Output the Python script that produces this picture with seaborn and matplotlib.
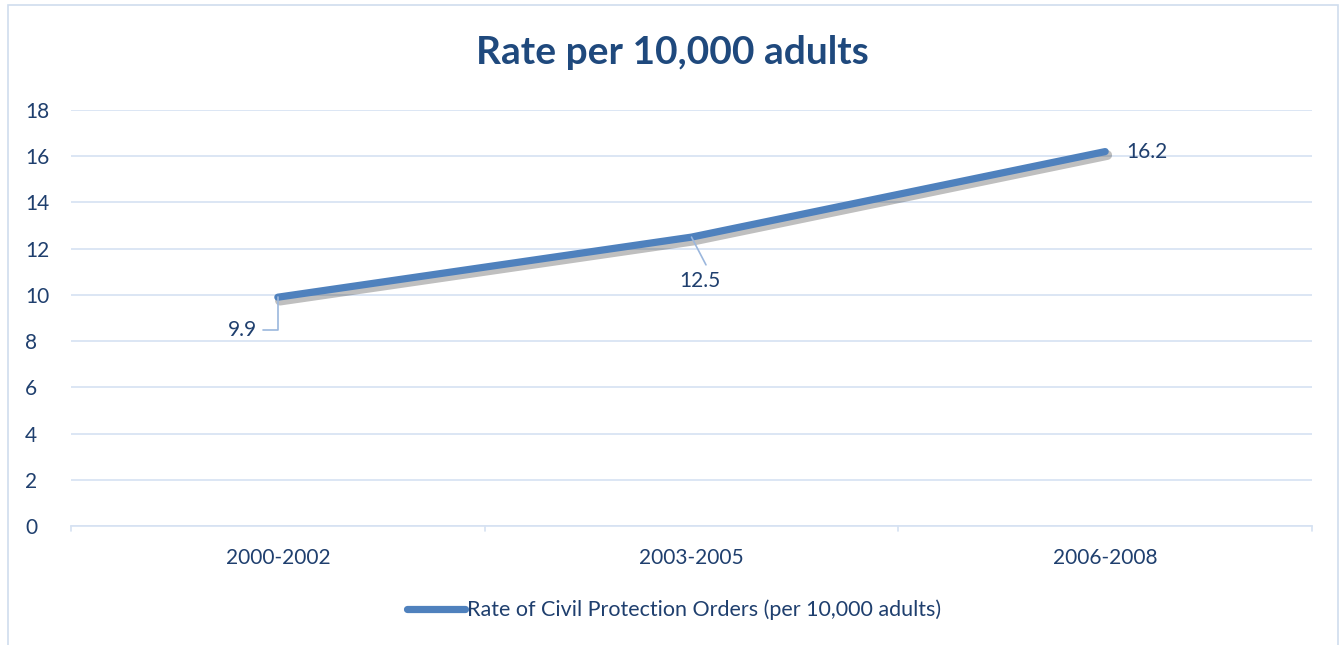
import matplotlib
matplotlib.use("Agg")
import matplotlib.pyplot as plt
import matplotlib.patheffects as pe
from matplotlib.patches import Rectangle
from matplotlib.lines import Line2D
import pandas as pd
import seaborn as sns

# Chart data
periods = ["2000-2002", "2003-2005", "2006-2008"]
rates = [9.9, 12.5, 16.2]
y_ticks = [0, 2, 4, 6, 8, 10, 12, 14, 16, 18]
series_name = "Rate of Civil Protection Orders (per 10,000 adults)"
title = "Rate per 10,000 adults"

df = pd.DataFrame({"period": periods, "rate": rates})
df["pos"] = range(len(periods))

sns.set_style("white")
plt.rcParams["font.family"] = ["Lato", "DejaVu Sans"]

text_color = "#1F3F6E"
line_color = "#4F81BD"
grid_color = "#D6E2F2"
fs = 15

fig = plt.figure(figsize=(13.44, 6.45), dpi=100)
ax = fig.add_axes([71 / 1344, 1 - 526 / 645, (1312 - 71) / 1344, (526 - 110) / 645])

# outer chart border
fig.patches.append(Rectangle((8 / 1344, -0.05), (1338 - 8) / 1344, 1 - 5 / 645 + 0.05,
                             transform=fig.transFigure, fill=False,
                             edgecolor="#D0DDEE", linewidth=1.2))

sns.lineplot(data=df, x="pos", y="rate", ax=ax, color=line_color, linewidth=5.2,
             legend=False,
             path_effects=[pe.SimpleLineShadow(offset=(1.5, -2.5), alpha=0.25, shadow_color="black",
                                               linewidth=7),
                           pe.Normal()],
             solid_capstyle="round")

ax.set_xlim(-0.5, len(periods) - 0.5)
ax.set_ylim(0, 18)
ax.set_yticks(y_ticks)
ax.set_xticks(range(len(periods)))
ax.set_xticklabels(periods)
ax.set_xlabel("")
ax.set_ylabel("")
ax.tick_params(axis="both", colors=text_color, labelsize=fs, length=0)
ax.tick_params(axis="x", pad=16)
ax.tick_params(axis="y", pad=33)
for lab in ax.get_yticklabels():
    lab.set_horizontalalignment("left")
ax.grid(axis="y", color=grid_color, linewidth=1.2)
ax.set_axisbelow(True)
for side in ["top", "right", "left"]:
    ax.spines[side].set_visible(False)
ax.spines["bottom"].set_color(grid_color)
ax.spines["bottom"].set_linewidth(1.2)

# category boundary tick marks
for b in [i - 0.5 for i in range(len(periods) + 1)]:
    ax.plot([b, b], [0, -0.22], color=grid_color, linewidth=1.2, clip_on=False)

# data labels with leader lines
ax.plot([0, 0, -0.035], [rates[0], rates[0] - 1.4, rates[0] - 1.4], color="#9BB7DD", linewidth=1.2)
ax.text(-0.05, rates[0] - 1.4, f"{rates[0]}", ha="right", va="center", color=text_color, fontsize=fs)
ax.plot([1.0, 1.035], [rates[1], rates[1] - 1.2], color="#9BB7DD", linewidth=1.2)
ax.text(1.02, rates[1] - 1.9, f"{rates[1]}", ha="center", va="center", color=text_color, fontsize=fs)
ax.text(2.05, rates[2], f"{rates[2]}", ha="left", va="center", color=text_color, fontsize=fs)

fig.text(0.5, 1 - 53 / 645, title, ha="center", va="center", color="#1F497D",
         fontsize=28, fontweight="bold")

# legend
handle = Line2D([], [], color=line_color, linewidth=5.2, solid_capstyle="round")
leg = fig.legend([handle], [series_name], loc="center", bbox_to_anchor=(674 / 1344, 1 - 610 / 645),
                 frameon=False, fontsize=15.5, handlelength=2.7, handletextpad=0.1)
for t in leg.get_texts():
    t.set_color(text_color)

fig.savefig("out.png", dpi=100)
